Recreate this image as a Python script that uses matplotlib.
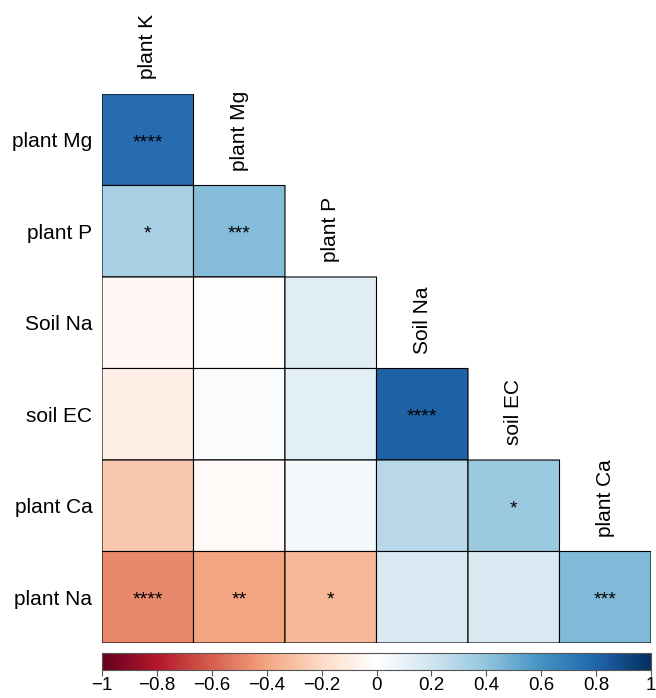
import numpy as np
import matplotlib
matplotlib.use("Agg")
import matplotlib.pyplot as plt
from matplotlib.colors import Normalize, LinearSegmentedColormap

plt.rcParams['font.family'] = ['Liberation Sans', 'DejaVu Sans']

col_labels = ["plant K", "plant Mg", "plant P", "Soil Na", "soil EC", "plant Ca"]
row_labels = ["plant Mg", "plant P", "Soil Na", "soil EC", "plant Ca", "plant Na"]

# lower-triangular correlation values (row i has i+1 entries)
corr_rows = [
    [0.77],
    [0.33, 0.43],
    [-0.04, -0.01, 0.14],
    [-0.09, 0.03, 0.12, 0.82],
    [-0.27, -0.03, 0.05, 0.28, 0.37],
    [-0.48, -0.40, -0.33, 0.17, 0.17, 0.44],
]
stars_rows = [
    ["****"],
    ["*", "***"],
    ["", "", ""],
    ["", "", "", "****"],
    ["", "", "", "", "*"],
    ["****", "**", "*", "", "", "***"],
]
cbar_ticks = [-1, -0.8, -0.6, -0.4, -0.2, 0, 0.2, 0.4, 0.6, 0.8, 1]

n = len(row_labels)
M = np.full((n, n), np.nan)
for i, r in enumerate(corr_rows):
    M[i, :len(r)] = r
Mm = np.ma.masked_invalid(M)

cmap = LinearSegmentedColormap.from_list(
    'RdBu_corr',
    ["#67001F", "#B2182B", "#D6604D", "#F4A582", "#FDDBC7", "#FFFFFF",
     "#D1E5F0", "#92C5DE", "#4393C3", "#2166AC", "#053061"], N=256)
norm = Normalize(-1, 1)

fig = plt.figure(figsize=(6.56, 6.98), dpi=100)
ax = fig.add_axes([102/656, 1-643/698, 549/656, 549/698])
mesh = ax.pcolor(np.arange(n+1), np.arange(n+1), Mm, cmap=cmap, norm=norm,
                 edgecolors='black', linewidth=0.8)
ax.set_xlim(0, n)
ax.set_ylim(n, 0)
for s in ax.spines.values():
    s.set_visible(False)
ax.set_xticks([])
ax.set_yticks(np.arange(n) + 0.5)
ax.set_yticklabels(row_labels, fontsize=15)
ax.tick_params(axis='y', length=0, pad=7)

for i, r in enumerate(stars_rows):
    for j, s in enumerate(r):
        if s:
            ax.text(j + 0.5, i + 0.53, s, ha='center', va='center', fontsize=14, color='black')

for j, lab in enumerate(col_labels):
    ax.text(j + 0.5, j - 0.16, lab, rotation=90, ha='center', va='bottom', fontsize=15)

cax = fig.add_axes([102/656, 1-670/698, 549/656, 17/698])
cb = fig.colorbar(mesh, cax=cax, orientation='horizontal', ticks=cbar_ticks)
cb.ax.set_xticklabels([f"{t:g}".replace('-', '\u2212') for t in cbar_ticks])
cb.ax.tick_params(labelsize=13.5, length=4, width=0.8, pad=1, color='#555555')
cb.outline.set_edgecolor('#555555')
cb.outline.set_linewidth(0.8)

fig.savefig('out.png', dpi=100)
